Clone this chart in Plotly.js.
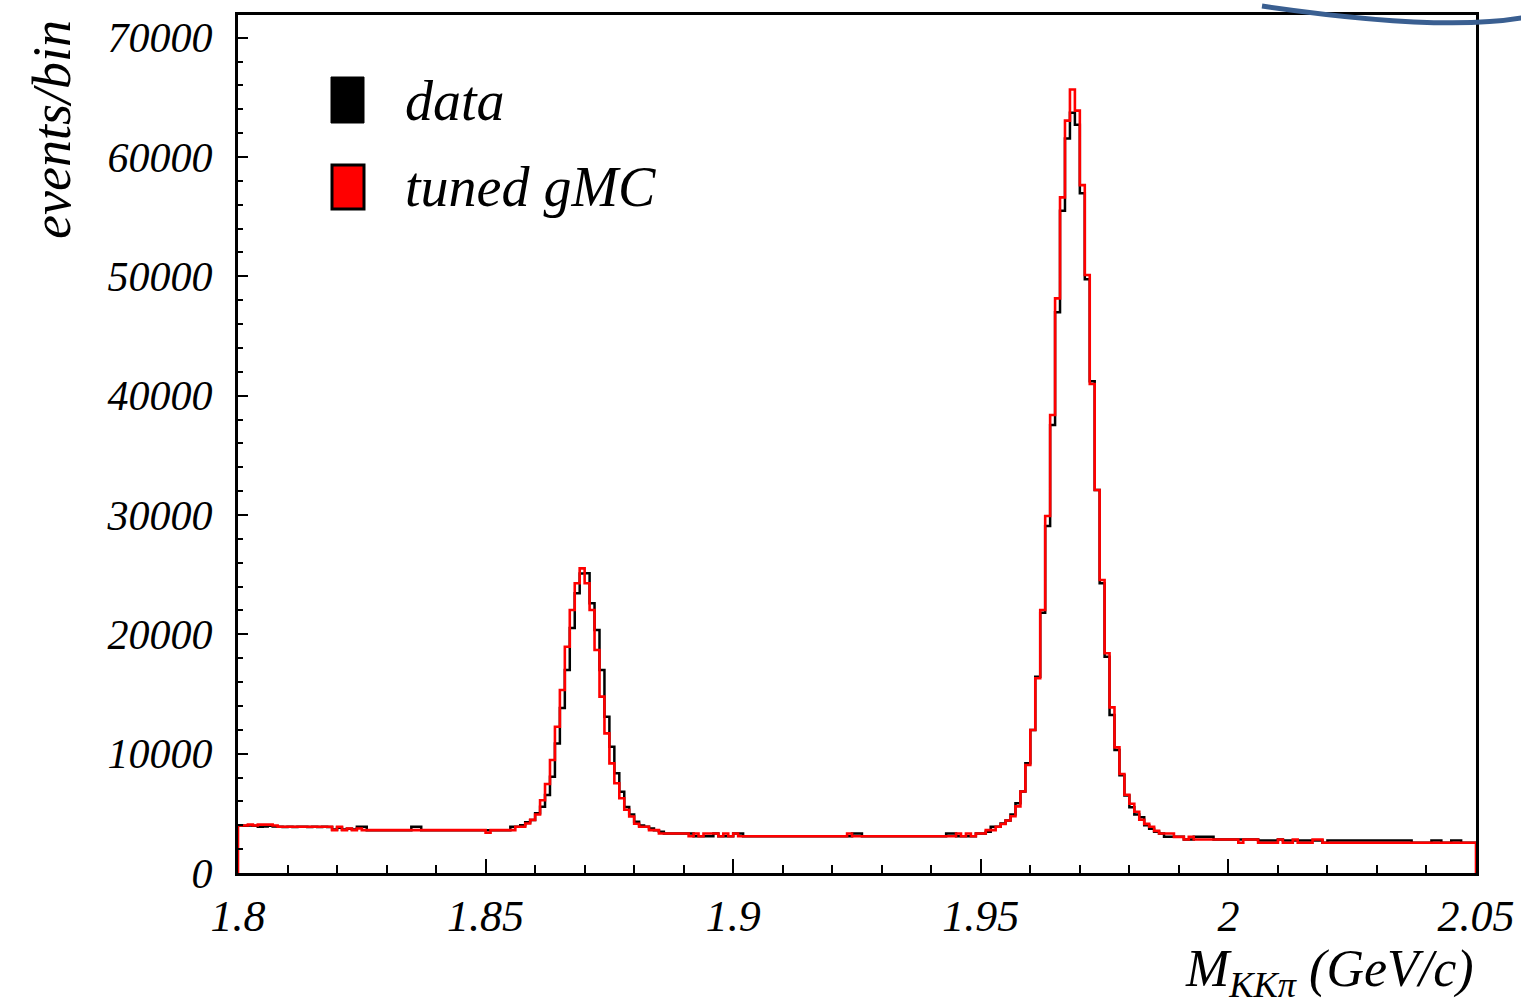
<!DOCTYPE html>
<html>
<head>
<meta charset="utf-8">
<script src="https://cdn.plot.ly/plotly-3.0.1.min.js"></script>
<style>
html, body { margin: 0; padding: 0; background: #ffffff; }
#chart { width: 1521px; height: 1007px; }
</style>
</head>
<body>
<div id="chart"></div>
<script>
// Histogram binning (GeV/c)
const binStart = 1.8;
const binWidth = 0.001;

// Data (black) events per bin, 250 bins from 1.800 to 2.050
const dataCounts = [
  3980, 3950, 3980, 3950, 3870, 3900, 3950, 3900, 3870, 3850,
  3870, 3850, 3870, 3870, 3850, 3870, 3850, 3870, 3850, 3650,
  3800, 3650, 3700, 3650, 3870, 3870, 3590, 3590, 3590, 3590,
  3590, 3590, 3590, 3590, 3590, 3870, 3870, 3590, 3590, 3590,
  3590, 3590, 3590, 3590, 3590, 3590, 3590, 3590, 3590, 3590,
  3590, 3590, 3590, 3590, 3590, 3870, 3870, 4000, 4250, 4450,
  5000, 5550, 6540, 8070, 10860, 13830, 17010, 20530, 23440, 25100,
  25110, 22600, 20360, 17010, 13100, 10580, 8350, 6800, 5530, 4900,
  4300, 3990, 3870, 3730, 3590, 3450, 3310, 3310, 3310, 3310,
  3310, 3310, 3080, 3080, 3080, 3080, 3310, 3080, 3080, 3080,
  3310, 3310, 3080, 3080, 3080, 3080, 3080, 3080, 3080, 3080,
  3080, 3080, 3080, 3080, 3080, 3080, 3080, 3080, 3080, 3080,
  3080, 3080, 3080, 3080, 3310, 3310, 3080, 3080, 3080, 3080,
  3080, 3080, 3080, 3080, 3080, 3080, 3080, 3080, 3080, 3080,
  3080, 3080, 3080, 3310, 3310, 3080, 3080, 3080, 3080, 3310,
  3310, 3450, 3870, 3870, 4150, 4400, 4900, 5840, 6830, 9190,
  11980, 16450, 21810, 29080, 37540, 46990, 55500, 61560, 63700, 62700,
  56960, 49750, 41200, 32100, 24280, 18130, 13240, 10310, 8200, 6500,
  5500, 4900, 4670, 4000, 3700, 3450, 3310, 3030, 3030, 3030,
  3030, 2810, 2810, 3030, 3030, 3030, 3030, 2810, 2810, 2810,
  2810, 2810, 2810, 2810, 2810, 2810, 2720, 2720, 2720, 2720,
  2810, 2720, 2720, 2720, 2720, 2720, 2720, 2720, 2720, 2530,
  2720, 2720, 2720, 2720, 2720, 2720, 2720, 2720, 2720, 2720,
  2720, 2720, 2720, 2720, 2720, 2720, 2720, 2530, 2530, 2530,
  2530, 2720, 2720, 2530, 2530, 2720, 2720, 2530, 2530, 2530
];

// Tuned generic MC (red) events per bin
const mcCounts = [
  3980, 3980, 4050, 3980, 4050, 4050, 4050, 3980, 3870, 3870,
  3870, 3870, 3870, 3870, 3870, 3870, 3870, 3870, 3870, 3590,
  3870, 3590, 3730, 3590, 3730, 3590, 3590, 3590, 3590, 3590,
  3590, 3590, 3590, 3590, 3590, 3590, 3590, 3590, 3590, 3590,
  3590, 3590, 3590, 3590, 3590, 3590, 3590, 3590, 3590, 3590,
  3370, 3590, 3590, 3590, 3590, 3590, 3870, 3870, 4150, 4450,
  4900, 6100, 7460, 9470, 12260, 15340, 18960, 22040, 24280, 25530,
  24280, 22040, 18690, 14780, 11700, 9190, 7520, 6260, 5300, 4740,
  4130, 3870, 3870, 3590, 3590, 3310, 3310, 3310, 3310, 3310,
  3310, 3080, 3310, 3080, 3310, 3310, 3310, 3080, 3310, 3080,
  3310, 3080, 3080, 3080, 3080, 3080, 3080, 3080, 3080, 3080,
  3080, 3080, 3080, 3080, 3080, 3080, 3080, 3080, 3080, 3080,
  3080, 3080, 3080, 3310, 3080, 3080, 3080, 3080, 3080, 3080,
  3080, 3080, 3080, 3080, 3080, 3080, 3080, 3080, 3080, 3080,
  3080, 3080, 3080, 3080, 3080, 3310, 3080, 3310, 3080, 3310,
  3310, 3590, 3590, 3870, 4100, 4400, 4760, 5580, 6830, 9050,
  11980, 16320, 22040, 29920, 38380, 48150, 56620, 63050, 65660, 63890,
  57640, 50110, 40980, 32100, 24550, 18410, 13880, 10530, 8300, 6560,
  5800, 5130, 4460, 4120, 3870, 3530, 3310, 3310, 3310, 3030,
  3030, 2810, 3030, 2810, 2810, 2810, 2810, 2810, 2810, 2810,
  2810, 2810, 2530, 2810, 2810, 2810, 2530, 2530, 2530, 2530,
  2810, 2530, 2530, 2810, 2530, 2530, 2530, 2810, 2810, 2530,
  2530, 2530, 2530, 2530, 2530, 2530, 2530, 2530, 2530, 2530,
  2530, 2530, 2530, 2530, 2530, 2530, 2530, 2530, 2530, 2530,
  2530, 2530, 2530, 2530, 2530, 2530, 2530, 2530, 2530, 2530
];

const xTickVals = [1.8, 1.85, 1.9, 1.95, 2.0, 2.05];
const xTickText = ['1.8', '1.85', '1.9', '1.95', '2', '2.05'];
const yTickVals = [0, 10000, 20000, 30000, 40000, 50000, 60000, 70000];
const yTickText = ['0', '10000', '20000', '30000', '40000', '50000', '60000', '70000'];
const legendLabels = ['data', 'tuned gMC'];

// Build step outlines from bin edges
function stepXY(counts, closeToZero) {
  const xs = [], ys = [];
  const n = counts.length;
  if (closeToZero) { xs.push(binStart); ys.push(0); }
  for (let i = 0; i < n; i++) {
    xs.push(+(binStart + i * binWidth).toFixed(4));
    ys.push(counts[i]);
  }
  xs.push(+(binStart + n * binWidth).toFixed(4));
  ys.push(counts[n - 1]);
  if (closeToZero) { xs.push(+(binStart + n * binWidth).toFixed(4)); ys.push(0); }
  return { xs, ys };
}

const d = stepXY(dataCounts, false);
const m = stepXY(mcCounts, true);

const serif = 'Liberation Serif, Times New Roman, serif';

const traces = [
  {
    type: 'scatter', mode: 'lines', name: legendLabels[0],
    x: d.xs, y: d.ys,
    line: { shape: 'hv', color: '#000000', width: 2.5 },
    hoverinfo: 'skip', showlegend: false
  },
  {
    type: 'scatter', mode: 'lines', name: legendLabels[1],
    x: m.xs, y: m.ys,
    line: { shape: 'hv', color: '#ff0000', width: 2.6 },
    hoverinfo: 'skip', showlegend: false
  }
];

// paper-coordinate helpers for the layout (plot area 238..1476 x 15..873 px)
const L = 238, R = 1476, T = 15, B = 873;
const px = v => (v - L) / (R - L);
const py = v => (B - v) / (B - T);

const layout = {
  width: 1521, height: 1007,
  margin: { l: L, r: 1521 - R, t: T, b: 1007 - B, pad: 0 },
  paper_bgcolor: '#ffffff', plot_bgcolor: '#ffffff',
  showlegend: false,
  xaxis: {
    range: [1.8, 2.05],
    tickmode: 'array', tickvals: xTickVals, ticktext: xTickText,
    ticks: 'inside', ticklen: 14, tickwidth: 2, tickcolor: '#000',
    minor: { dtick: 0.01, ticks: 'inside', ticklen: 8, tickwidth: 2, tickcolor: '#000', showgrid: false },
    showgrid: false, zeroline: false,
    showline: true, linecolor: '#000', linewidth: 3, mirror: true,
    tickfont: { family: serif, size: 44, color: '#000', style: 'italic' },
    ticklabelstandoff: 2
  },
  yaxis: {
    range: [0, 71900],
    tickmode: 'array', tickvals: yTickVals, ticktext: yTickText,
    ticks: 'inside', ticklen: 10, tickwidth: 2, tickcolor: '#000',
    minor: { dtick: 2000, ticks: 'inside', ticklen: 5, tickwidth: 2, tickcolor: '#000', showgrid: false },
    showgrid: false, zeroline: false,
    showline: true, linecolor: '#000', linewidth: 3, mirror: true,
    tickfont: { family: serif, size: 42, color: '#000', style: 'italic' },
    ticklabelstandoff: 14
  },
  shapes: [
    // legend keys
    { type: 'rect', xref: 'paper', yref: 'paper',
      x0: px(331), x1: px(364), y0: py(123), y1: py(77),
      fillcolor: '#000', line: { color: '#000', width: 1 } },
    { type: 'rect', xref: 'paper', yref: 'paper',
      x0: px(332), x1: px(364), y0: py(209), y1: py(165),
      fillcolor: '#ff0000', line: { color: '#000', width: 3 } },
    // decorative slide arc at top-right corner
    { type: 'path', xref: 'paper', yref: 'paper',
      path: 'M ' + px(1262) + ' ' + py(6) + ' Q ' + px(1461) + ' ' + py(35) + ' ' + px(1540) + ' ' + py(14),
      line: { color: 'rgb(58,95,145)', width: 5 } }
  ],
  annotations: [
    { xref: 'paper', yref: 'paper', x: px(403), y: py(101), xanchor: 'left', yanchor: 'middle',
      text: legendLabels[0], showarrow: false,
      font: { family: serif, size: 56, color: '#000', style: 'italic' } },
    { xref: 'paper', yref: 'paper', x: px(403), y: py(187), xanchor: 'left', yanchor: 'middle',
      text: legendLabels[1], showarrow: false,
      font: { family: serif, size: 56, color: '#000', style: 'italic' } },
    { xref: 'paper', yref: 'paper', x: px(52), y: py(130), xanchor: 'center', yanchor: 'middle',
      text: 'events/bin', textangle: -90, showarrow: false,
      font: { family: serif, size: 54, color: '#000', style: 'italic' } },
    { xref: 'paper', yref: 'paper', x: 1.0, y: py(972), xanchor: 'right', yanchor: 'middle',
      text: 'M<sub>KKπ</sub> (GeV/c)', showarrow: false,
      font: { family: serif, size: 52, color: '#000', style: 'italic' } }
  ]
};

Plotly.newPlot('chart', traces, layout, { staticPlot: true, displayModeBar: false });
</script>
</body>
</html>
